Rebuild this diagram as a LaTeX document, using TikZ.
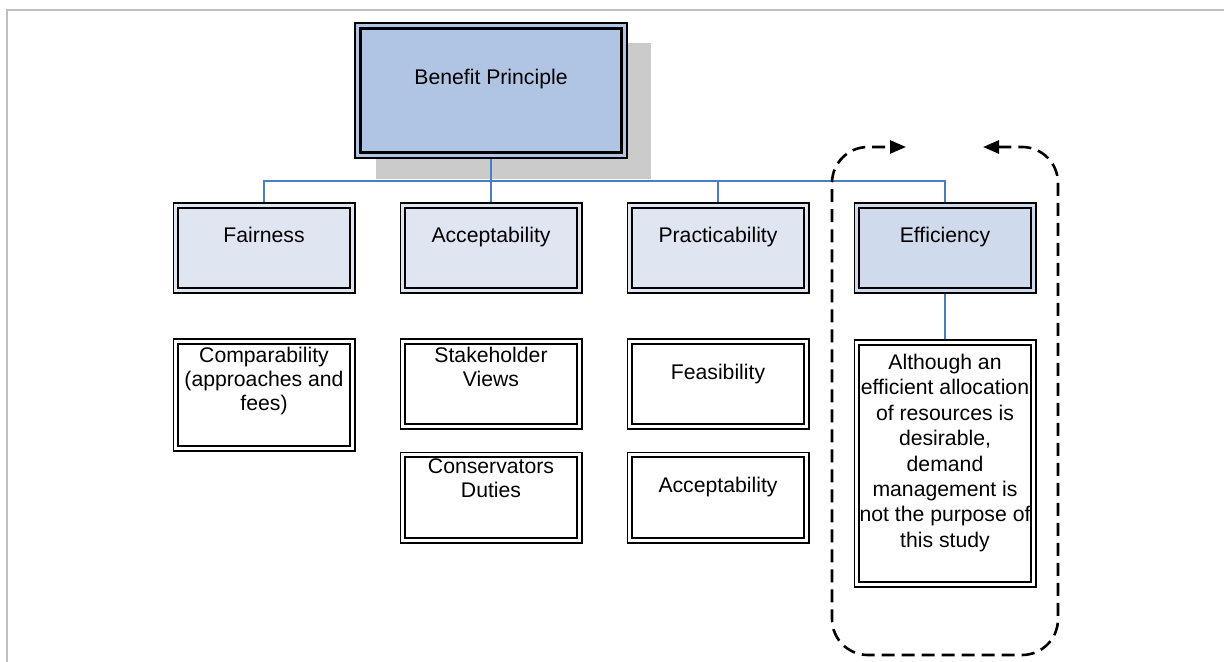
\documentclass[tikz,border=0pt]{standalone}
\usepackage{fontspec}
\setmainfont{Liberation Sans}
\usepackage{xcolor}
\usetikzlibrary{arrows.meta}
\definecolor{topB}{HTML}{B0C4E4}
\definecolor{lvlB}{HTML}{DFE5F1}
\definecolor{effB}{HTML}{CFDBEC}
\definecolor{shadG}{HTML}{CBCBCB}
\definecolor{linkB}{HTML}{4A7EC4}
\definecolor{frameG}{HTML}{BFBFBF}

\begin{document}
\begin{tikzpicture}[x=0.5pt, y=-0.5pt,
  font=\fontsize{10.6}{12}\selectfont,
  dbox/.style={draw=black, line width=0.9pt, double distance=1.5pt,
    inner sep=0pt, outer sep=1.65pt, align=center, minimum width=88.2pt},
  lvl/.style={dbox, fill=lvlB, double=lvlB},
  sub/.style={dbox, fill=white, double=white},
  tpos/.style 2 args={text height=#1, text depth=#2}, % down to last baseline / below it
  link/.style={linkB, line width=1pt},
  dashloop/.style={line width=1.3pt, dash pattern=on 6.5pt off 3.5pt,
    rounded corners=18pt, {Triangle[length=8pt,width=6.5pt]}-{Triangle[length=8pt,width=6.5pt]}}]
  \useasboundingbox (0,0) rectangle (1224,662);
  % page frame
  \draw[frameG, line width=1pt] (7,662) -- (7,10) -- (1224,10);
  % top box with its shadow
  \fill[shadG] (376,43) rectangle (651,179);
  \node[draw=black, line width=1.1pt, double=topB, double distance=1.6pt,
        fill=topB, inner sep=0pt, outer sep=1.9pt, minimum width=133.2pt,
        tpos={29.35pt}{35.35pt}] (bp) at (491,90.5) {Benefit Principle};
  % second row
  \node[lvl, tpos={18.6pt}{24.1pt}] (fair) at (264,248) {Fairness};
  \node[lvl, tpos={18.6pt}{24.1pt}] (acc)  at (491,248) {Acceptability};
  \node[lvl, tpos={18.6pt}{24.1pt}] (prac) at (718,248) {Practicability};
  \node[lvl, fill=effB, double=effB, tpos={18.6pt}{24.1pt}] (eff) at (945,248) {Efficiency};
  % criteria under each heading
  \node[sub, tpos={34.6pt}{19.1pt}]  (comp)  at (264,395)   {Comparability\\(approaches and\\fees)};
  \node[sub, tpos={22.6pt}{20.1pt}]  (stake) at (491,384)   {Stakeholder\\Views};
  \node[sub, tpos={21.25pt}{21.45pt}] (cons) at (491,497.5) {Conservators\\Duties};
  \node[sub, tpos={19.1pt}{23.6pt}]  (feas)  at (718,384)   {Feasibility};
  \node[sub, tpos={18.6pt}{24.1pt}]  (acc2)  at (718,497.5) {Acceptability};
  \node[sub, font=\fontsize{10.6}{12.7}\selectfont, tpos={102.5pt}{18.7pt}] (efftxt) at (945,463.5)
     {Although an\\efficient allocation\\of resources is\\desirable,\\demand\\management is\\not the purpose of\\this study};
  % tree connectors
  \foreach \n in {fair,acc,prac,eff}
    \draw[link] (bp.south) -- ++(0,22) -| (\n.north);
  \draw[link] (eff.south) -- (efftxt.north);
  % dashed loop round the efficiency branch
  \coordinate (loopR) at (983,147);
  \coordinate (loopL) at (906,147);
  \draw[dashloop] (loopR) -- (1058,147) -- (1058,655) -- (832,655) -- (832,147) -- (loopL);
\end{tikzpicture}
\end{document}
